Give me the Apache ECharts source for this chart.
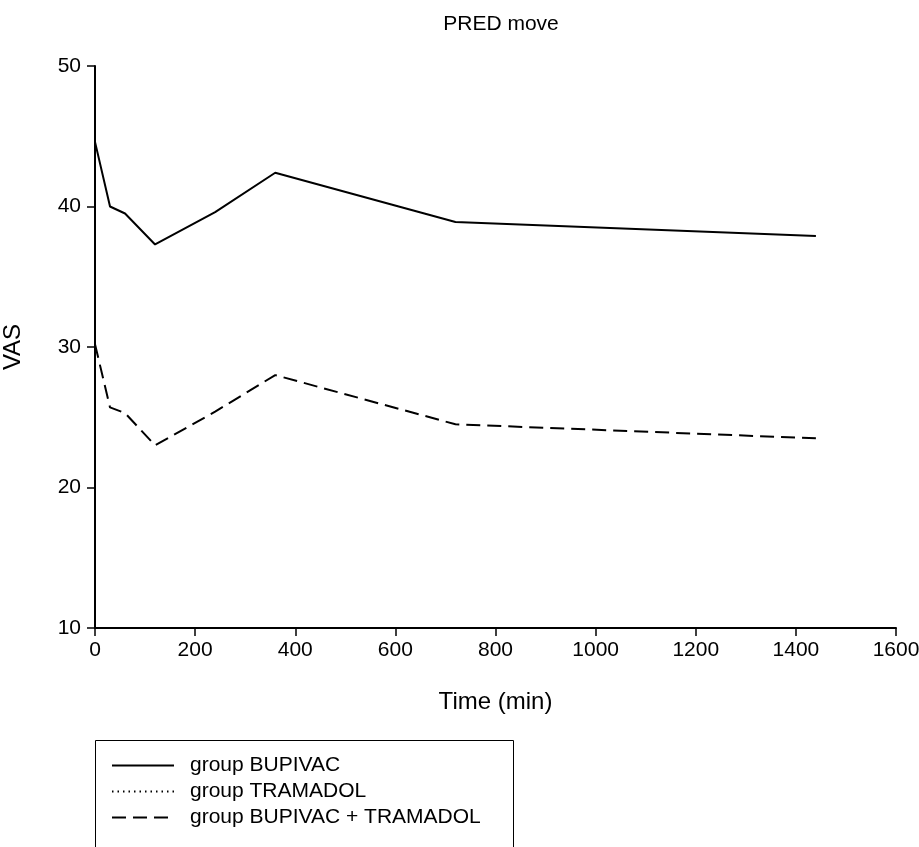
<!DOCTYPE html>
<html>
<head>
<meta charset="utf-8">
<script src="https://cdn.jsdelivr.net/npm/echarts@6/dist/echarts.min.js"></script>
<style>
  html, body { margin: 0; padding: 0; background: #fff; }
  #chart { width: 919px; height: 847px; }
</style>
</head>
<body>
<div id="chart"></div>
<script>
// 时间点 (min) 和各组 VAS
const times = [0, 30, 60, 120, 240, 360, 720, 1440]
const bupivac = [44.6, 40.0, 39.5, 37.3, 39.6, 42.4, 38.9, 37.9]
const tramadol = []
const bupivacTramadol = [30.2, 25.7, 25.3, 23.0, 25.4, 28.0, 24.5, 23.5]
const seriesNames = ['group BUPIVAC', 'group TRAMADOL', 'group BUPIVAC + TRAMADOL']

const font = 'Liberation Sans, Arial, sans-serif'
const chart = echarts.init(document.getElementById('chart'))

function pairs (ys) {
    return ys.map((y, i) => [times[i], y])
}

let option = {
    backgroundColor: '#fff',
    animation: false,
    title: {
        text: 'PRED move',
        left: 496,
        textAlign: 'center',
        top: 9,
        textStyle: { color: '#000', fontSize: 21, fontWeight: 'normal', fontFamily: font }
    },
    // 图例外框
    graphic: [{
        type: 'rect',
        x: 95.5,
        y: 740.5,
        shape: { x: 0, y: 0, width: 418, height: 130 },
        style: { fill: 'none', stroke: '#000', lineWidth: 1 },
        z: 0
    }],
    legend: {
        orient: 'vertical',
        left: 95,
        top: 740,
        padding: [15, 25, 5, 16],
        itemWidth: 62,
        itemHeight: 14,
        itemGap: 5,
        itemStyle: { opacity: 0 },
        textStyle: { color: '#000', fontSize: 21, fontFamily: font, padding: [0, 0, 0, 11] },
        data: seriesNames
    },
    grid: {
        left: 95,
        right: 23,
        top: 66,
        bottom: 219,
        outerBoundsMode: 'none'
    },
    xAxis: {
        type: 'value',
        min: 0,
        max: 1600,
        interval: 200,
        name: 'Time (min)',
        nameLocation: 'middle',
        nameGap: 62,
        nameTextStyle: { color: '#000', fontSize: 24, fontFamily: font },
        axisLine: { lineStyle: { color: '#000', width: 2 } },
        axisTick: { length: 8, lineStyle: { color: '#000', width: 1.5 } },
        axisLabel: { color: '#000', fontSize: 21, fontFamily: font, margin: 12, formatter: v => String(v) },
        splitLine: { show: false }
    },
    yAxis: {
        type: 'value',
        min: 10,
        max: 50,
        interval: 10,
        name: 'VAS',
        nameLocation: 'middle',
        nameGap: 70,
        nameTextStyle: { color: '#000', fontSize: 24, fontFamily: font },
        axisLine: { show: true, lineStyle: { color: '#000', width: 2 } },
        axisTick: { show: true, length: 8, lineStyle: { color: '#000', width: 1.5 } },
        axisLabel: { color: '#000', fontSize: 21, fontFamily: font, margin: 14 },
        splitLine: { show: false }
    },
    series: [
        {
            name: seriesNames[0],
            type: 'line',
            symbol: 'none',
            data: pairs(bupivac),
            itemStyle: { color: '#000' },
            lineStyle: { color: '#000', width: 2 }
        },
        {
            name: seriesNames[1],
            type: 'line',
            symbol: 'none',
            data: pairs(tramadol),
            itemStyle: { color: '#000' },
            lineStyle: { color: '#000', width: 1, type: [1.5, 4] }
        },
        {
            name: seriesNames[2],
            type: 'line',
            symbol: 'none',
            data: pairs(bupivacTramadol),
            itemStyle: { color: '#000' },
            lineStyle: { color: '#000', width: 2, type: [14, 7] }
        }
    ]
}
chart.setOption(option, true)
</script>
</body>
</html>
